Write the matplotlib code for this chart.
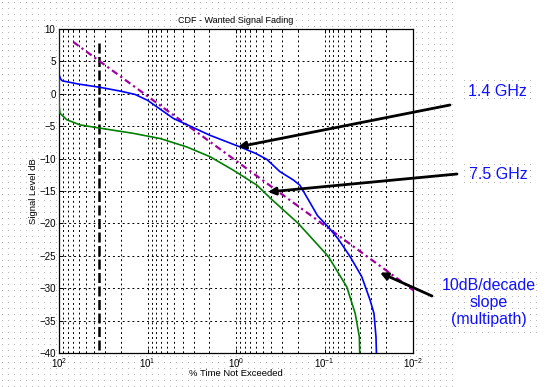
import numpy as np
import matplotlib
matplotlib.use("Agg")
import matplotlib.pyplot as plt
from matplotlib.ticker import LogLocator, NullFormatter

plt.rcParams['font.family'] = ['Liberation Sans', 'DejaVu Sans']
plt.rcParams['mathtext.fontset'] = 'custom'
plt.rcParams['mathtext.rm'] = 'Liberation Sans'
plt.rcParams['mathtext.default'] = 'regular'

# ---------------- data ----------------
title = "CDF - Wanted Signal Fading"
xlabel = "% Time Not Exceeded"
ylabel = "Signal Level dB"

# 1.4 GHz curve (blue)
p_14 = [100, 99.5, 96, 91.8, 60, 34.4, 20, 13.8, 10, 5.1, 1.97, 0.90, 0.60, 0.45,
        0.32, 0.225, 0.19, 0.15, 0.12, 0.09, 0.07, 0.0515, 0.038, 0.0306, 0.0276,
        0.0262, 0.0259]
v_14 = [10, 2.9, 2.3, 2.0, 1.5, 1.0, 0.4, -0.1, -1.0, -3.8, -6.4, -8.2, -9.2, -10.1,
        -12.0, -13.3, -14.1, -16.5, -18.8, -20.6, -22.4, -25.1, -28.2, -31.8, -33.9,
        -37.5, -40]

# 7.5 GHz curve (green)
p_75 = [100, 99.6, 97.4, 81.8, 57.9, 34.4, 14.5, 7.2, 3.6, 1.97, 1.07, 0.58, 0.41,
        0.198, 0.0906, 0.056, 0.045, 0.0404, 0.040]
v_75 = [5.0, -2.0, -3.0, -4.0, -4.8, -5.3, -6.1, -6.9, -8.2, -9.7, -11.8, -14.1, -16.1,
        -20.0, -25.1, -29.8, -33.9, -37.5, -40]

# 10 dB/decade reference slope (magenta)
p_slope = [69, 0.0095]
v_slope = [8.0, -30.5]

# dashed vertical marker
p_mark = [35, 35]
v_mark = [7.8, -40]

yticks = [-40, -35, -30, -25, -20, -15, -10, -5, 0, 5, 10]
label_14 = "1.4 GHz"
label_75 = "7.5 GHz"
label_slope = "10dB/decade\nslope\n(multipath)"

# ---------------- figure ----------------
W, H = 551, 387
fig = plt.figure(figsize=(W / 100, H / 100), dpi=100, facecolor='white')

# dotted slide-grid background texture
tex = np.zeros((H, W, 4))
yy, xx = np.mgrid[0:H, 0:W]
dots = (yy % 6 == 2) & (xx % 6 == 2)
region = (xx < 454)
region |= (xx >= 461) & (xx <= 535) & (yy >= 80) & (yy <= 101)
region |= (xx >= 461) & (xx <= 535) & (yy >= 162) & (yy <= 185)
region |= (xx >= 437) & (xx <= 540) & (yy >= 272) & (yy <= 334)
m = dots & region
tex[m] = [0.72, 0.72, 0.72, 1.0]
fig.figimage(tex, xo=0, yo=0, origin='upper', zorder=0)

ax = fig.add_axes([59 / W, 1 - 353 / H, 354 / W, 324 / H])
ax.set_facecolor('white')
ax.set_zorder(1)

ax.set_xscale('log')
ax.set_xlim(100, 0.01)
ax.set_ylim(-40, 10)
ax.set_yticks(yticks)
ax.xaxis.set_major_locator(LogLocator(base=10, numticks=10))
ax.xaxis.set_minor_locator(LogLocator(base=10, subs=np.arange(2, 10), numticks=20))
ax.xaxis.set_minor_formatter(NullFormatter())

gridstyle = dict(color='black', linestyle=(0, (2, 3)), linewidth=0.7)
ax.grid(True, which='major', axis='both', **gridstyle)
ax.grid(True, which='minor', axis='x', **gridstyle)
ax.set_axisbelow(True)

ax.tick_params(which='both', direction='in', top=True, right=True, labelsize=7,
               width=0.7)
ax.tick_params(axis='y', pad=2.5)
ax.tick_params(axis='x', pad=2.5)
ax.tick_params(which='major', length=3)
ax.tick_params(which='minor', length=1.8)
for s in ax.spines.values():
    s.set_linewidth(0.9)

ax.plot(p_mark, v_mark, color='black', lw=1.8, dashes=(4, 1.4), zorder=3)
ax.plot(p_slope, v_slope, color='#a000a0', lw=1.6, dashes=(3, 1.6, 1, 1.6), zorder=4)
ax.plot(p_75, v_75, color='#008000', lw=1.2, zorder=5)
ax.plot(p_14, v_14, color='#0000ff', lw=1.2, zorder=5)

ax.set_title(title, fontsize=6.5, pad=4)
ax.set_xlabel(xlabel, fontsize=6.8)
ax.set_ylabel(ylabel, fontsize=6.8)
ax.xaxis.set_label_coords(0.5, -0.05)
ax.yaxis.set_label_coords(-0.06, 0.5)

# annotations
arrow = dict(arrowstyle='-|>', color='black', lw=2.0, mutation_scale=11,
             shrinkA=0, shrinkB=0)
txt_color = '#1010ff'
ax.annotate("", xy=(0.95, -8.2), xycoords='data',
            xytext=(450 / W, 1 - 105 / H), textcoords='figure fraction',
            arrowprops=arrow, annotation_clip=False, zorder=6)
ax.annotate("", xy=(0.435, -15.15), xycoords='data',
            xytext=(457 / W, 1 - 174 / H), textcoords='figure fraction',
            arrowprops=arrow, annotation_clip=False, zorder=6)
ax.annotate("", xy=(0.0236, -27.6), xycoords='data',
            xytext=(432 / W, 1 - 296 / H), textcoords='figure fraction',
            arrowprops=arrow, annotation_clip=False, zorder=6)

fig.text(497 / W, 1 - 91 / H, label_14, color=txt_color, fontsize=11.5,
         ha='center', va='center')
fig.text(498 / W, 1 - 174.5 / H, label_75, color=txt_color, fontsize=11.5,
         ha='center', va='center')
fig.text(489 / W, 1 - 302.5 / H, label_slope, color=txt_color, fontsize=11.5,
         ha='center', va='center', linespacing=1.2)

fig.savefig("out.png", dpi=100, facecolor='white')
